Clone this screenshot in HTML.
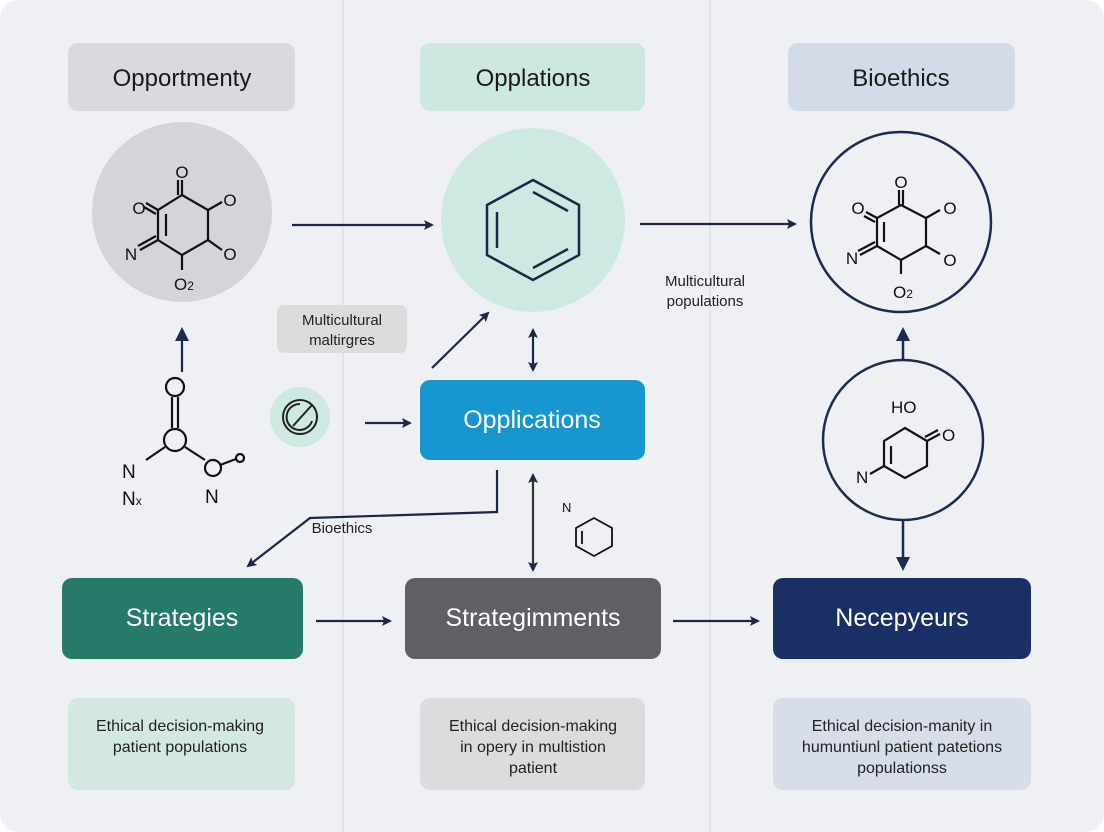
<!DOCTYPE html>
<html><head><meta charset="utf-8"><style>
html,body{margin:0;padding:0;background:#fff}
svg{display:block}
text{font-family:"Liberation Sans",sans-serif}
</style></head><body>
<svg width="1104" height="832" viewBox="0 0 1104 832">
<defs>
<marker id="a" markerWidth="10" markerHeight="10" refX="8" refY="5" orient="auto" markerUnits="userSpaceOnUse"><path d="M0,0 L10,5 L0,10 L2,5Z" fill="#1c2744"/></marker>
<marker id="b" markerWidth="14" markerHeight="14" refX="11" refY="7" orient="auto" markerUnits="userSpaceOnUse"><path d="M0,0 L14,7 L0,14Z" fill="#1c2b55"/></marker>
<marker id="s" markerWidth="10" markerHeight="10" refX="2" refY="5" orient="auto" markerUnits="userSpaceOnUse"><path d="M10,0 L0,5 L10,10 L8,5Z" fill="#1c2744"/></marker>
</defs>
<rect x="0" y="0" width="1104" height="832" rx="18" fill="#eef0f4"/>
<line x1="343" y1="0" x2="343" y2="832" stroke="#dcdfe4" stroke-width="1.5"/>
<line x1="710" y1="0" x2="710" y2="832" stroke="#dcdfe4" stroke-width="1.5"/>

<!-- headers -->
<rect x="68" y="43" width="227" height="68" rx="10" fill="#d9dadd"/>
<text x="182" y="86" font-size="24" text-anchor="middle" fill="#1a1a1a">Opportmenty</text>
<rect x="420" y="43" width="225" height="68" rx="10" fill="#cde8e1"/>
<text x="533" y="86" font-size="24" text-anchor="middle" fill="#1a1a1a">Opplations</text>
<rect x="788" y="43" width="227" height="68" rx="10" fill="#d4dbe8"/>
<text x="901" y="86" font-size="24" text-anchor="middle" fill="#1a1a1a">Bioethics</text>

<!-- circle 1 molecule -->
<circle cx="182" cy="212" r="90" fill="#d4d5d8"/>
<g stroke="#111" stroke-width="2.2" fill="none">
<path d="M182,195 L208,210 L208,240 L182,255 L158,240 L158,210 Z"/>
<line x1="166" y1="214" x2="166" y2="236"/>
<line x1="182" y1="195" x2="182" y2="180"/><line x1="178" y1="195" x2="178" y2="180"/>
<line x1="158" y1="210" x2="146" y2="203"/><line x1="156" y1="214" x2="144" y2="207"/>
<line x1="208" y1="210" x2="222" y2="202"/><line x1="208" y1="240" x2="222" y2="250"/>
<line x1="158" y1="240" x2="140" y2="250"/><line x1="156" y1="236" x2="138" y2="246"/>
<line x1="182" y1="255" x2="182" y2="270"/>
</g>
<g font-size="17" fill="#111" text-anchor="middle">
<text x="182" y="178">O</text><text x="139" y="214">O</text><text x="230" y="206">O</text>
<text x="230" y="260">O</text><text x="131" y="260">N</text><text x="184" y="290">O<tspan font-size="12">2</tspan></text>
</g>

<!-- left chain -->
<line x1="182" y1="372" x2="182" y2="330" stroke="#1c2744" stroke-width="2.2" marker-end="url(#b)"/>
<g stroke="#111" stroke-width="2.2" fill="none">
<circle cx="175" cy="387" r="9"/><line x1="172" y1="397" x2="172" y2="428"/><line x1="178" y1="397" x2="178" y2="428"/>
<circle cx="175" cy="440" r="11"/><line x1="165" y1="447" x2="146" y2="460"/><line x1="185" y1="447" x2="205" y2="460"/>
<circle cx="213" cy="468" r="8"/><circle cx="240" cy="458" r="4"/><line x1="220" y1="465" x2="236" y2="459"/>
</g>
<g font-size="19" fill="#111"><text x="122" y="478">N</text><text x="122" y="505">N<tspan font-size="12">x</tspan></text><text x="205" y="503">N</text></g>

<!-- arrows top -->
<line x1="292" y1="225" x2="432" y2="225" stroke="#1c2744" stroke-width="2.2" marker-end="url(#a)"/>
<line x1="640" y1="224" x2="795" y2="224" stroke="#1c2744" stroke-width="2.2" marker-end="url(#a)"/>

<!-- circle 2 benzene -->
<circle cx="533" cy="220" r="92" fill="#cde9e2"/>
<g stroke="#1c2744" stroke-width="2.5" fill="none">
<path d="M533,180 L579,205 L579,255 L533,280 L487,255 L487,205 Z"/>
<line x1="533" y1="192" x2="568" y2="211"/><line x1="568" y1="249" x2="533" y2="268"/><line x1="497" y1="212" x2="497" y2="248"/>
</g>

<text x="705" y="286" font-size="15" text-anchor="middle" fill="#222">Multicultural</text>
<text x="705" y="306" font-size="15" text-anchor="middle" fill="#222">populations</text>

<!-- circle 3 -->
<circle cx="901" cy="222" r="90" fill="none" stroke="#1c2b4f" stroke-width="2.5"/>
<g stroke="#111" stroke-width="2.2" fill="none">
<path d="M901,205 L926,218 L926,246 L901,260 L877,246 L877,218 Z"/>
<line x1="884" y1="222" x2="884" y2="242"/>
<line x1="903" y1="205" x2="903" y2="190"/><line x1="899" y1="205" x2="899" y2="190"/>
<line x1="877" y1="218" x2="866" y2="212"/><line x1="875" y1="222" x2="864" y2="216"/>
<line x1="926" y1="218" x2="940" y2="210"/><line x1="926" y1="246" x2="940" y2="254"/>
<line x1="877" y1="246" x2="860" y2="255"/><line x1="875" y1="242" x2="858" y2="251"/>
<line x1="901" y1="260" x2="901" y2="274"/>
</g>
<g font-size="17" fill="#111" text-anchor="middle">
<text x="901" y="188">O</text><text x="858" y="214">O</text><text x="950" y="214">O</text>
<text x="950" y="266">O</text><text x="852" y="264">N</text><text x="903" y="298">O<tspan font-size="12">2</tspan></text>
</g>

<!-- circle 4 -->
<line x1="903" y1="360" x2="903" y2="330" stroke="#1c2b55" stroke-width="2.5" marker-end="url(#b)"/>
<circle cx="903" cy="440" r="80" fill="none" stroke="#1c2b4f" stroke-width="2.5"/>
<g stroke="#111" stroke-width="2.2" fill="none">
<path d="M905,428 L927,441 L927,466 L905,478 L884,466 L884,441 Z"/>
<line x1="891" y1="446" x2="891" y2="464"/>
<line x1="927" y1="441" x2="940" y2="434"/><line x1="925" y1="437" x2="938" y2="430"/>
<line x1="884" y1="466" x2="870" y2="474"/>
</g>
<g font-size="17" fill="#111"><text x="891" y="413">HO</text><text x="942" y="441">O</text><text x="856" y="483">N</text></g>
<line x1="903" y1="520" x2="903" y2="568" stroke="#1c2b55" stroke-width="2.5" marker-end="url(#b)"/>

<!-- middle -->
<rect x="277" y="305" width="130" height="48" rx="7" fill="#dcdcdd"/>
<text x="342" y="325" font-size="15" text-anchor="middle" fill="#222">Multicultural</text>
<text x="342" y="345" font-size="15" text-anchor="middle" fill="#222">maltirgres</text>
<circle cx="300" cy="417" r="30" fill="#cde9e2"/>
<circle cx="300" cy="417" r="17" fill="none" stroke="#222" stroke-width="2"/>
<path d="M300,404 A13,13 0 1,0 312,421" fill="none" stroke="#222" stroke-width="2"/>
<line x1="293" y1="426" x2="312" y2="405" stroke="#222" stroke-width="2"/>
<line x1="365" y1="423" x2="410" y2="423" stroke="#1c2744" stroke-width="2.2" marker-end="url(#a)"/>
<line x1="432" y1="368" x2="488" y2="313" stroke="#1c2744" stroke-width="2.2" marker-end="url(#a)"/>
<line x1="533" y1="330" x2="533" y2="370" stroke="#1c2744" stroke-width="2.2" marker-start="url(#s)" marker-end="url(#a)"/>
<rect x="420" y="380" width="225" height="80" rx="10" fill="#1796cf"/>
<text x="532" y="428" font-size="25" text-anchor="middle" fill="#fff">Opplications</text>
<line x1="533" y1="475" x2="533" y2="570" stroke="#333" stroke-width="2.2" marker-start="url(#s)" marker-end="url(#a)"/>
<polyline points="497,470 497,512 310,518 248,566" fill="none" stroke="#1c2744" stroke-width="2.2" marker-end="url(#a)"/>
<text x="342" y="533" font-size="15" text-anchor="middle" fill="#222">Bioethics</text>
<g stroke="#111" stroke-width="1.8" fill="none">
<path d="M594,518 L612,528 L612,546 L594,556 L576,546 L576,528 Z"/><line x1="582" y1="531" x2="582" y2="544"/>
</g>
<text x="562" y="512" font-size="13" fill="#111">N</text>

<!-- bottom boxes -->
<rect x="62" y="578" width="241" height="81" rx="10" fill="#257a6a"/>
<text x="182" y="626" font-size="25" text-anchor="middle" fill="#fff">Strategies</text>
<rect x="405" y="578" width="256" height="81" rx="10" fill="#5e6065"/>
<text x="533" y="626" font-size="25" text-anchor="middle" fill="#fff">Strategimments</text>
<rect x="773" y="578" width="258" height="81" rx="10" fill="#1a2f66"/>
<text x="902" y="626" font-size="25" text-anchor="middle" fill="#fff">Necepyeurs</text>
<line x1="316" y1="621" x2="390" y2="621" stroke="#1c2744" stroke-width="2.2" marker-end="url(#a)"/>
<line x1="673" y1="621" x2="758" y2="621" stroke="#1c2744" stroke-width="2.2" marker-end="url(#a)"/>

<rect x="68" y="698" width="227" height="92" rx="10" fill="#d3e8e0"/>
<text x="180" y="731" font-size="16" text-anchor="middle" fill="#222">Ethical decision-making</text>
<text x="180" y="752" font-size="16" text-anchor="middle" fill="#222">patient populations</text>
<rect x="420" y="698" width="225" height="92" rx="10" fill="#dcdcde"/>
<text x="533" y="731" font-size="16" text-anchor="middle" fill="#222">Ethical decision-making</text>
<text x="533" y="752" font-size="16" text-anchor="middle" fill="#222">in opery in multistion</text>
<text x="533" y="773" font-size="16" text-anchor="middle" fill="#222">patient</text>
<rect x="773" y="698" width="258" height="92" rx="10" fill="#d7dde9"/>
<text x="902" y="731" font-size="16" text-anchor="middle" fill="#222">Ethical decision-manity in</text>
<text x="902" y="752" font-size="16" text-anchor="middle" fill="#222">humuntiunl patient patetions</text>
<text x="902" y="773" font-size="16" text-anchor="middle" fill="#222">populationss</text>
</svg>
</body></html>
